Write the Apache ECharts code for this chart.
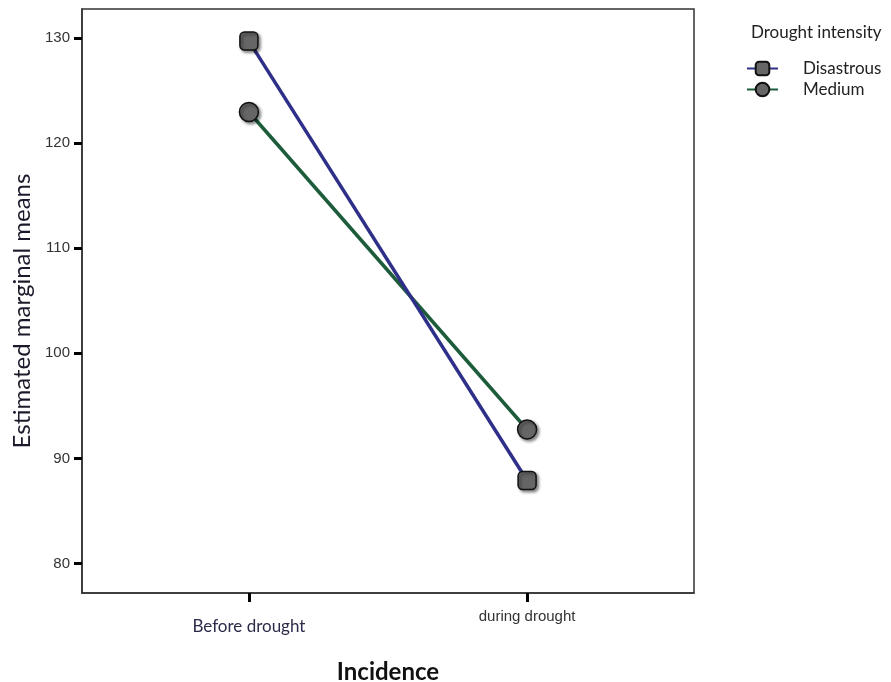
<!DOCTYPE html>
<html>
<head>
<meta charset="utf-8">
<title>Estimated marginal means</title>
<script src="https://cdn.jsdelivr.net/npm/echarts@6/dist/echarts.min.js"></script>
<style>
  html, body { margin: 0; padding: 0; background: #fff; }
  #chart { width: 891px; height: 682px; }
</style>
</head>
<body>
<div id="chart"></div>
<script>
// categories on the x axis (placed at 0 and 1 on a value axis)
var categories = ['Before drought', 'during drought'];
var catPos = [0, 1];
var seriesNames = ['Disastrous', 'Medium'];
var disastrous = [129.7, 87.9];
var medium = [122.95, 92.75];
var yTicks = [80, 90, 100, 110, 120, 130];

var myChart = echarts.init(document.getElementById('chart'));

function pairs(vals) {
    return vals.map(function (v, i) { return [catPos[i], v]; });
}

var markerStyle = {
    color: '#666666',
    borderColor: '#111',
    borderWidth: 1.5,
    shadowBlur: 3,
    shadowOffsetX: 2,
    shadowOffsetY: 2,
    shadowColor: 'rgba(0,0,0,0.45)'
};

var option = {
    backgroundColor: '#fff',
    animation: false,
    title: {
        text: 'Drought intensity',
        left: 746,
        top: 19,
        textStyle: { fontFamily: 'Lato', fontSize: 17, fontWeight: 'normal', color: '#222' }
    },
    legend: {
        left: 741,
        top: 55,
        orient: 'vertical',
        itemWidth: 31,
        itemHeight: 17,
        itemGap: 4,
        data: seriesNames,
        textStyle: {
            fontFamily: 'Lato', fontSize: 17, color: '#222',
            padding: [0, 0, 4, 20]
        }
    },
    grid: {
        left: 82, right: 197, top: 9, bottom: 89,
        show: true,
        borderColor: '#333',
        borderWidth: 1.5,
        containLabel: false,
        outerBoundsMode: 'none'
    },
    xAxis: {
        type: 'value',
        min: -0.6,
        max: 1.6,
        name: 'Incidence',
        nameLocation: 'middle',
        nameGap: 67,
        nameTextStyle: { fontFamily: 'Lato', fontSize: 24, fontWeight: 'bold', color: '#111' },
        splitLine: { show: false },
        axisLine: { show: true, onZero: false, lineStyle: { color: '#333', width: 1.5 } },
        axisTick: {
            show: true, length: 9, inside: false,
            customValues: catPos,
            lineStyle: { color: '#000', width: 3 }
        },
        axisLabel: {
            customValues: catPos,
            margin: 16,
            formatter: function (v) {
                var i = catPos.indexOf(v);
                if (i === 0) return '{a|' + categories[0] + '}';
                if (i === 1) return '{b|' + categories[1] + '}';
                return '';
            },
            rich: {
                a: { fontFamily: 'Lato', fontSize: 17, color: '#2b2b4a', padding: [9, 0, 0, 0] },
                b: { fontFamily: 'Liberation Sans', fontSize: 15, color: '#333' }
            }
        }
    },
    yAxis: {
        type: 'value',
        min: 77.2,
        max: 132.75,
        name: 'Estimated marginal means',
        nameLocation: 'middle',
        nameGap: 46,
        nameTextStyle: { fontFamily: 'Lato', fontSize: 24, color: '#1a1a2a', padding: [0, 20, 0, 0] },
        splitLine: { show: false },
        axisLine: { show: true, onZero: false, lineStyle: { color: '#333', width: 1.5 } },
        axisTick: {
            show: true, length: 8,
            customValues: yTicks,
            lineStyle: { color: '#000', width: 3 }
        },
        axisLabel: {
            customValues: yTicks,
            margin: 12,
            fontFamily: 'Liberation Sans',
            fontSize: 15,
            color: '#333'
        }
    },
    series: [
        {
            name: seriesNames[0],
            type: 'line',
            data: pairs(disastrous),
            symbol: 'roundRect',
            symbolSize: 18,
            lineStyle: { color: '#2e2f88', width: 3.5 },
            itemStyle: markerStyle,
            z: 3
        },
        {
            name: seriesNames[1],
            type: 'line',
            data: pairs(medium),
            symbol: 'circle',
            symbolSize: 19,
            lineStyle: { color: '#1d5c3b', width: 3.5 },
            itemStyle: markerStyle,
            z: 2
        }
    ]
};
myChart.setOption(option);
</script>
</body>
</html>
